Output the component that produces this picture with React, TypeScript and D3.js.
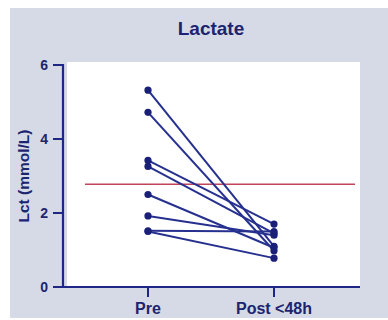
import * as d3 from "d3";

const TITLE = "Lactate";
const Y_LABEL = "Lct (mmol/L)";
const GROUPS = ["Pre", "Post <48h"];
const Y_TICKS = [0, 2, 4, 6];
const PRE = [5.32, 4.72, 3.42, 3.26, 2.5, 1.92, 1.52, 1.5];
const POST = [1.1, 0.98, 1.7, 1.45, 1.06, 1.4, 1.5, 0.78];
const THRESHOLD = 2.78;

const W = 388;
const H = 320;
const X0 = 63;
const X1 = 360;
const Y0 = 287;
const Y1 = 65;
const NAVY = "#1e2686";
const TEXT = "#1c2470";

export default function App() {
  const y = d3.scaleLinear().domain([0, 6]).range([Y0, Y1]);
  const x = d3.scalePoint().domain(GROUPS).range([148, 274]);
  const pairs = PRE.map((p, i) => [p, POST[i]]);
  const line = d3
    .line<number>()
    .x((_, i) => x(GROUPS[i]) as number)
    .y((d) => y(d));

  return (
    <svg
      width={W}
      height={H}
      style={{ position: "absolute", left: 0, top: 0, fontFamily: "Liberation Sans, Arial, sans-serif" }}
    >
      <rect x={0} y={0} width={W} height={H} fill="#ffffff" />
      <rect x={10} y={8} width={W - 10} height={310} fill="#d5dae6" />
      <rect x={67} y={62} width={X1 - 67} height={Y0 - 62} fill="#ffffff" />
      <text x={211} y={35} textAnchor="middle" fontSize={19} fontWeight="bold" fill={TEXT}>
        {TITLE}
      </text>

      {/* threshold */}
      <line x1={85} x2={355} y1={y(THRESHOLD)} y2={y(THRESHOLD)} stroke="#c0445a" strokeWidth={1.5} />

      {/* pairs */}
      {pairs.map((d, i) => (
        <g key={i}>
          <path d={line(d) ?? ""} fill="none" stroke="#26308f" strokeWidth={2} />
          {d.map((v, j) => (
            <circle key={j} cx={x(GROUPS[j])} cy={y(v)} r={3.6} fill="#1a1f78" />
          ))}
        </g>
      ))}

      {/* y axis */}
      <line x1={X0} x2={X0} y1={Y1 - 1} y2={Y0 + 1} stroke={NAVY} strokeWidth={2.2} />
      {Y_TICKS.map((t) => (
        <g key={t}>
          <line x1={53} x2={X0} y1={y(t)} y2={y(t)} stroke={NAVY} strokeWidth={2} />
          <text x={48} y={y(t)} dy="0.36em" textAnchor="end" fontSize={14} fontWeight="bold" fill={TEXT}>
            {t}
          </text>
        </g>
      ))}
      <text
        transform={`translate(29,${(Y0 + Y1) / 2}) rotate(-90)`}
        textAnchor="middle"
        fontSize={15.5}
        fontWeight="bold"
        fill={TEXT}
      >
        {Y_LABEL}
      </text>

      {/* x axis */}
      <line x1={X0 - 1} x2={X1} y1={Y0} y2={Y0} stroke={NAVY} strokeWidth={2.2} />
      {GROUPS.map((g) => (
        <g key={g}>
          <line x1={x(g)} x2={x(g)} y1={Y0} y2={297} stroke={NAVY} strokeWidth={2} />
          <text x={x(g)} y={314} textAnchor="middle" fontSize={16} fontWeight="bold" fill={TEXT}>
            {g}
          </text>
        </g>
      ))}
    </svg>
  );
}
